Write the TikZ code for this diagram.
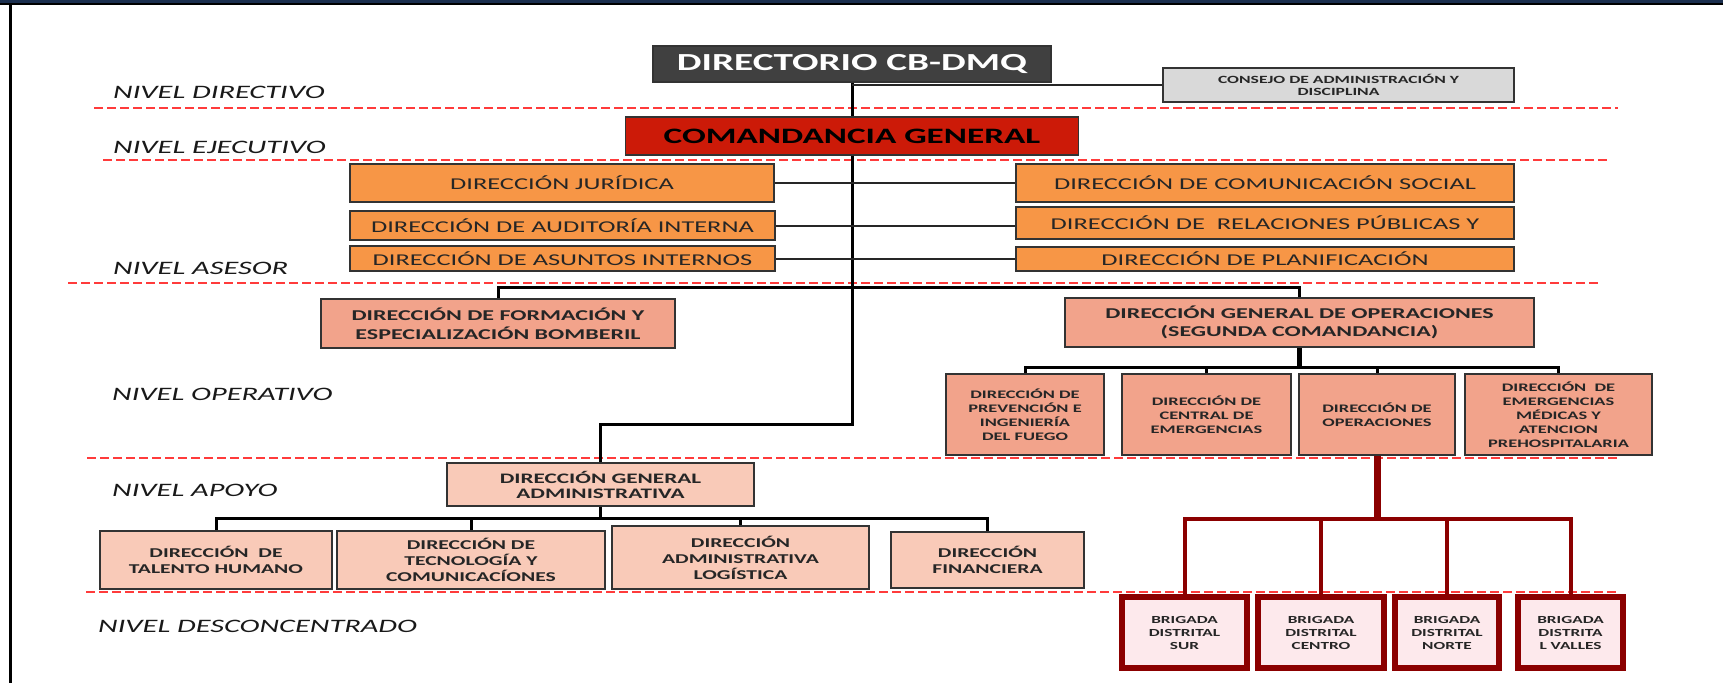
\documentclass[tikz,border=0pt]{standalone}
\usepackage{fontspec}
\setmainfont{Carlito}[FakeStretch=1.6]
\definecolor{topbar}{HTML}{1B2F4F}
\definecolor{dirgray}{HTML}{404040}
\definecolor{consgray}{HTML}{D9D9D9}
\definecolor{cmdred}{HTML}{CC1A08}
\definecolor{aseorange}{HTML}{F79646}
\definecolor{opsalmon}{HTML}{F2A38B}
\definecolor{apsalmon}{HTML}{F9CAB8}
\definecolor{brpink}{HTML}{FDE9EC}
\definecolor{brred}{HTML}{8B0000}
\definecolor{lvlred}{HTML}{FF3B3B}
\begin{document}
\begin{tikzpicture}[x=1pt,y=-1pt,
	box/.style={draw=black!80,line width=1.4pt,inner sep=0pt,align=center,text=black!85},
	sz/.style 2 args={minimum width=#1pt,minimum height=#2pt},
	lvl/.style={anchor=west,inner sep=0pt,text=black!90,font=\itshape\fontsize{19}{22}\selectfont},
	lvlline/.style={draw=lvlred,line width=1.3pt,dash pattern=on 9pt off 4pt},
	dirbox/.style={box,fill=dirgray,text=white,font=\bfseries\fontsize{24.5}{28}\selectfont},
	consbox/.style={box,fill=consgray,font=\bfseries\fontsize{11}{12.5}\selectfont},
	cmdbox/.style={box,fill=cmdred,text=black,font=\bfseries\fontsize{22}{26}\selectfont},
	asebox/.style={box,fill=aseorange,font=\fontsize{16.5}{20}\selectfont},
	opbig/.style={box,fill=opsalmon,font=\bfseries\fontsize{15}{18.5}\selectfont},
	opsmall/.style={box,fill=opsalmon,font=\bfseries\fontsize{11.5}{14}\selectfont},
	dgabox/.style={box,fill=apsalmon,font=\bfseries\fontsize{14.5}{15}\selectfont},
	apbox/.style={box,fill=apsalmon,font=\bfseries\fontsize{13.5}{16}\selectfont},
	brbox/.style={box,draw=brred,line width=6pt,fill=brpink,font=\bfseries\fontsize{10.8}{13}\selectfont},
	link/.style={draw=black!85,line width=2pt},
	trunk/.style={draw=black,line width=3pt},
	redlink/.style={draw=brred,line width=4pt}]
	\useasboundingbox (0,0) rectangle (1723,683);
	% frame
	\fill[topbar] (0,0) rectangle (1723,3);
	\fill[black] (0,3) rectangle (1723,4.5);
	\draw[black,line width=3pt] (10,4) -- (10,683);
	% level lines and labels
	\draw[lvlline] (94,108) -- (1618,108);
	\draw[lvlline] (103,160) -- (1610,160);
	\draw[lvlline] (68,283) -- (1601,283);
	\draw[lvlline] (87,458) -- (1619,458);
	\draw[lvlline] (86,592) -- (1617,592);
	\node[lvl] (ldir) at (113,92) {NIVEL DIRECTIVO};
	\node[lvl] (leje) at (113,147) {NIVEL EJECUTIVO};
	\node[lvl] (lase) at (113,268) {NIVEL ASESOR};
	\node[lvl] (lope) at (112,394) {NIVEL OPERATIVO};
	\node[lvl] (lapo) at (112,490) {NIVEL APOYO};
	\node[lvl] (ldes) at (98,626) {NIVEL DESCONCENTRADO};
	% directivo and ejecutivo
	\node[dirbox,sz={398}{36}] (dir) at (852,64) {DIRECTORIO CB-DMQ};
	\node[consbox,sz={351}{34}] (cons) at (1338.5,85) {CONSEJO DE ADMINISTRACIÓN Y\\DISCIPLINA};
	\node[cmdbox,sz={453}{38}] (cmd) at (852,136) {COMANDANCIA GENERAL};
	% asesor
	\node[asebox,sz={424}{38}] (jur) at (562,183) {DIRECCIÓN JURÍDICA};
	\node[asebox,sz={425}{29}] (aud) at (562.5,225.5) {DIRECCIÓN DE AUDITORÍA INTERNA};
	\node[asebox,sz={425}{25}] (asu) at (562.5,258.5) {DIRECCIÓN DE ASUNTOS INTERNOS};
	\node[asebox,sz={498}{38}] (com) at (1265,183) {DIRECCIÓN DE COMUNICACIÓN SOCIAL};
	\node[asebox,sz={498}{32}] (rel) at (1265,223) {DIRECCIÓN DE~~RELACIONES PÚBLICAS Y};
	\node[asebox,sz={498}{24}] (pla) at (1265,259) {DIRECCIÓN DE PLANIFICACIÓN};
	% operativo
	\node[opbig,sz={354}{49}] (form) at (498,323.5) {DIRECCIÓN DE FORMACIÓN Y\\ESPECIALIZACIÓN BOMBERIL};
	\node[opbig,sz={469}{49}] (dgo) at (1299.5,322.5) {DIRECCIÓN GENERAL DE OPERACIONES\\(SEGUNDA COMANDANCIA)};
	\node[opsmall,sz={158}{81}] (prev) at (1025,414.5) {DIRECCIÓN DE\\PREVENCIÓN E\\INGENIERÍA\\DEL FUEGO};
	\node[opsmall,sz={169}{81}] (cent) at (1206.5,414.5) {DIRECCIÓN DE\\CENTRAL DE\\EMERGENCIAS};
	\node[opsmall,sz={156}{81}] (oper) at (1377,414.5) {DIRECCIÓN DE\\OPERACIONES};
	\node[opsmall,sz={187}{81}] (emer) at (1558.5,414.5) {DIRECCIÓN~~DE\\EMERGENCIAS\\MÉDICAS Y\\ATENCION\\PREHOSPITALARIA};
	% apoyo
	\node[dgabox,sz={307}{43}] (dga) at (600.5,484.5) {DIRECCIÓN GENERAL\\ADMINISTRATIVA};
	\node[apbox,sz={232}{58}] (tal) at (216,560) {DIRECCIÓN~~DE\\TALENTO HUMANO};
	\node[apbox,sz={268}{58}] (tec) at (471,560) {DIRECCIÓN DE\\TECNOLOGÍA Y\\COMUNICACÍONES};
	\node[apbox,sz={257}{63}] (log) at (740.5,557.5) {DIRECCIÓN\\ADMINISTRATIVA\\LOGÍSTICA};
	\node[apbox,sz={193}{56}] (fin) at (987.5,560) {DIRECCIÓN\\FINANCIERA};
	% desconcentrado
	\node[brbox,sz={125}{71}] (sur) at (1184.5,632.5) {BRIGADA\\DISTRITAL\\SUR};
	\node[brbox,sz={126}{71}] (cen) at (1321,632.5) {BRIGADA\\DISTRITAL\\CENTRO};
	\node[brbox,sz={104}{71}] (nor) at (1447,632.5) {BRIGADA\\DISTRITAL\\NORTE};
	\node[brbox,sz={105}{71}] (val) at (1570.5,632.5) {BRIGADA\\DISTRITA\\L VALLES};
	% connectors
	\coordinate (ak) at (852,424);
	\draw[trunk] (dir.south) -- (cmd.north);
	\draw[trunk] (cmd.south) -- (ak) -| (dga.north);
	\draw[link] (cons.west) -- (cons.west -| dir.south);
	\draw[link] (jur.east) -- (com.west);
	\draw[link] (aud.east) -- (aud.east -| rel.west);
	\draw[link] (asu.east) -- (asu.east -| pla.west);
	\draw[trunk] (form.north) -- ++(0,-11) -| (dgo.north);
	\draw[trunk,line width=5pt] (dgo.south) -- ++(0,20) coordinate (oj);
	\draw[trunk] (oj) -| (prev.north);
	\draw[trunk] (oj) -| (cent.north);
	\draw[trunk] (oj) -| (oper.north);
	\draw[trunk] (oj) -| (emer.north);
	\draw[trunk] (dga.south) -- ++(0,12) coordinate (aj);
	\draw[trunk] (aj) -| (tal.north);
	\draw[trunk] (aj) -| (tec.north);
	\draw[trunk] (aj) -| (log.north);
	\draw[trunk] (aj) -| (fin.north);
	\draw[redlink,line width=7pt] (oper.south) -- ++(0,63) coordinate (bj);
	\draw[redlink] (bj) -| (sur.north);
	\draw[redlink] (bj) -| (cen.north);
	\draw[redlink] (bj) -| (nor.north);
	\draw[redlink] (bj) -| (val.north);
\end{tikzpicture}
\end{document}
